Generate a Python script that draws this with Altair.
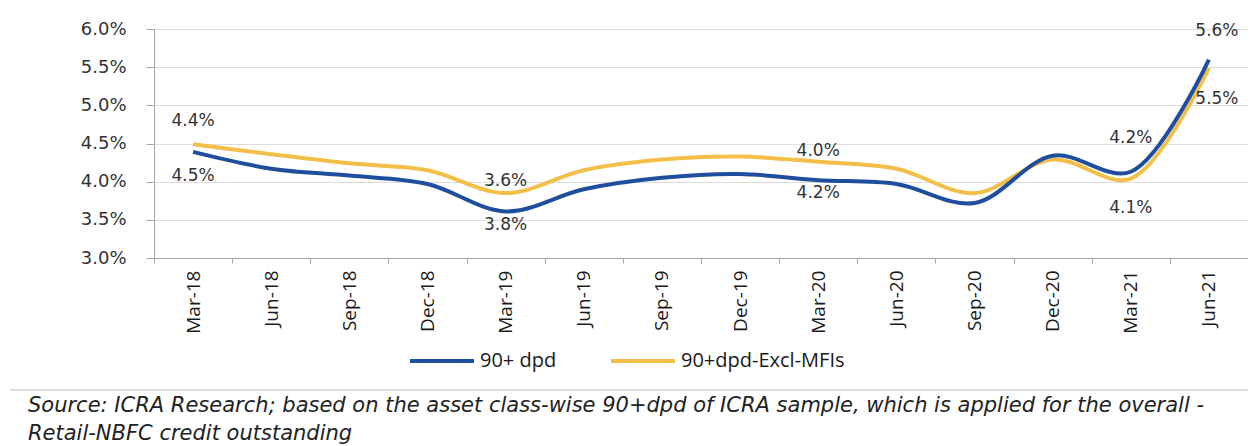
import altair as alt
import pandas as pd

months = ["Mar-18", "Jun-18", "Sep-18", "Dec-18", "Mar-19", "Jun-19", "Sep-19",
          "Dec-19", "Mar-20", "Jun-20", "Sep-20", "Dec-20", "Mar-21", "Jun-21"]
dpd = [4.39, 4.17, 4.08, 3.97, 3.61, 3.90, 4.05, 4.10, 4.02, 3.97, 3.72, 4.34, 4.13, 5.60]
excl_mfi = [4.49, 4.36, 4.24, 4.15, 3.85, 4.15, 4.29, 4.33, 4.26, 4.17, 3.85, 4.29, 4.04, 5.49]
series_names = ["90+ dpd", "90+dpd-Excl-MFIs"]
series_colors = ["#1F4E9E", "#F2C04A"]
y_ticks = [3.0, 3.5, 4.0, 4.5, 5.0, 5.5, 6.0]

label_months = ["Mar-18", "Mar-18", "Mar-19", "Mar-19", "Mar-20", "Mar-20",
                "Mar-21", "Mar-21", "Jun-21", "Jun-21"]
label_series = ["90+dpd-Excl-MFIs", "90+ dpd", "90+dpd-Excl-MFIs", "90+ dpd",
                "90+dpd-Excl-MFIs", "90+ dpd", "90+ dpd", "90+dpd-Excl-MFIs",
                "90+ dpd", "90+dpd-Excl-MFIs"]
label_texts = ["4.4%", "4.5%", "3.6%", "3.8%", "4.0%", "4.2%", "4.2%", "4.1%", "5.6%", "5.5%"]

source_lines = [
    "Source: ICRA Research; based on the asset class-wise 90+dpd of ICRA sample, which is applied for the overall -",
    "Retail-NBFC credit outstanding",
]

# ---- tables ----
rows = []
for m, a, b in zip(months, dpd, excl_mfi):
    rows.append({"month": m, "series": series_names[0], "value": a})
    rows.append({"month": m, "series": series_names[1], "value": b})
df = pd.DataFrame(rows)

lookup = {(r["month"], r["series"]): r["value"] for r in rows}
lab_df = pd.DataFrame({
    "idx": list(range(len(label_texts))),
    "month": label_months,
    "series": label_series,
    "text": label_texts,
    "value": [lookup[(m, s)] for m, s in zip(label_months, label_series)],
})

# label offsets (style, in pixels)
label_dx = [0, 0, 0, 0, 0, 0, 0, 0, 8, 8]
label_dy = [-23, 24, -12, 14, -11, 13, -34, 29, -29, 31]

x_enc = alt.X("month:N", sort=months, bandPosition=0.5,
              scale=alt.Scale(type="band", paddingInner=0, paddingOuter=0),
              axis=alt.Axis(title=None, labelAngle=270, labelFont="Open Sans",
                            labelFontSize=19, labelColor="#1a1a1a", labelPadding=7,
                            tickBand="extent", tickSize=5, tickColor="#a6a6a6",
                            domainColor="#a6a6a6", grid=False, labelBaseline="middle",
                            labelOverlap=False))
y_enc = alt.Y("value:Q",
              scale=alt.Scale(domain=[3.0, 6.0], nice=False, zero=False),
              axis=alt.Axis(title=None, values=y_ticks, tickCount=7,
                            labelExpr="format(datum.value, '.1f') + '%'",
                            labelFont="DejaVu Sans", labelFontSize=18,
                            labelColor="#333333", labelPadding=20, labelOverlap=False,
                            labelFlush=False,
                            tickSize=8, tickColor="#a6a6a6", domainColor="#a6a6a6",
                            gridColor="#dcdcdc", gridWidth=1))
color_enc = alt.Color("series:N",
                      scale=alt.Scale(domain=series_names, range=series_colors),
                      legend=alt.Legend(title=None, orient="none", direction="horizontal",
                                        legendX=254, legendY=298,
                                        symbolType="stroke", symbolSize=4096,
                                        symbolStrokeWidth=4, labelFont="Open Sans",
                                        labelFontSize=20, labelColor="#1a1a1a",
                                        labelOffset=4, columnPadding=46, labelLimit=400))

base = alt.Chart(df)
line_y = base.transform_filter(alt.datum.series == series_names[1]).mark_line(
    interpolate="catmull-rom", strokeWidth=4).encode(x=x_enc, y=y_enc, color=color_enc)
line_b = base.transform_filter(alt.datum.series == series_names[0]).mark_line(
    interpolate="catmull-rom", strokeWidth=4).encode(x=x_enc, y=y_enc, color=color_enc)

layers = [line_y, line_b]
for i in range(len(label_texts)):
    layers.append(
        alt.Chart(lab_df).transform_filter(alt.datum.idx == i)
        .mark_text(font="DejaVu Sans", fontSize=17, color="#333333",
                   dx=label_dx[i], dy=label_dy[i])
        .encode(x=x_enc, y=y_enc, text="text:N")
    )

sep = alt.Chart(pd.DataFrame({"k": [0]})).mark_rule(color="#d0d0d0", strokeWidth=1.5).encode(
    x=alt.value(-144), x2=alt.value(1100), y=alt.value(361))
layers.append(sep)

chart = alt.layer(*layers).properties(
    width=1094, height=229,
    autosize=alt.AutoSizeParams(type="none"),
    padding={"left": 146, "top": 21, "right": 0, "bottom": 187},
    title=alt.TitleParams(text=source_lines, orient="bottom", anchor="start", frame="group",
                          dx=-126, offset=4, font="DejaVu Sans", fontSize=21,
                          fontStyle="italic", fontWeight="normal", color="#222222",
                          lineHeight=28, baseline="top"),
).configure_view(stroke=None).configure(background="white")

chart.save("out.html", embed_options={"renderer": "svg", "actions": False})
